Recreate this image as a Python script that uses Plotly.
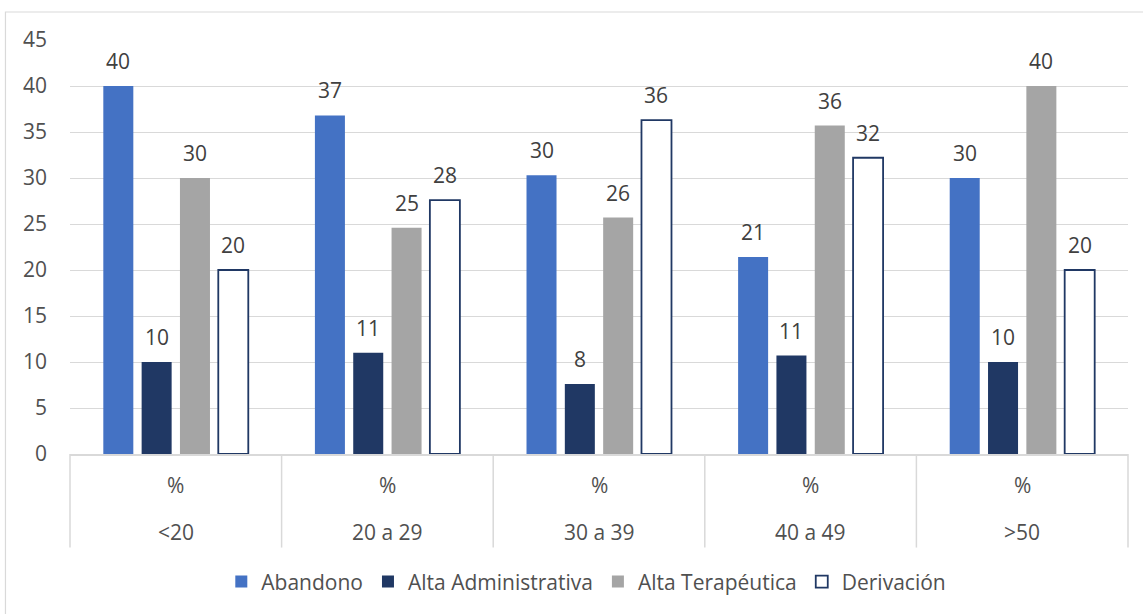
import plotly.graph_objects as go

# Age groups and the single measure shown under each group
age_groups = ["<20", "20 a 29", "30 a 39", "40 a 49", ">50"]
measure_label = "%"

# Percentage of each discharge type per age group
abandono = [40.0, 36.8, 30.3, 21.4, 30.0]
alta_administrativa = [10.0, 11.0, 7.6, 10.7, 10.0]
alta_terapeutica = [30.0, 24.6, 25.7, 35.7, 40.0]
derivacion = [20.0, 27.6, 36.3, 32.2, 20.0]

y_ticks = [0, 5, 10, 15, 20, 25, 30, 35, 40, 45]

series = [
    ("Abandono", abandono, "#4472C4", "#4472C4", 0),
    ("Alta Administrativa", alta_administrativa, "#203864", "#203864", 0),
    ("Alta Terapéutica", alta_terapeutica, "#A5A5A5", "#A5A5A5", 0),
    ("Derivación", derivacion, "#FFFFFF", "#203864", 1.8),
]

FONT = "Open Sans"
FSIZE = 21
LABEL_COLOR = "#404040"
AXIS_COLOR = "#505050"
GRID = "#D9D9D9"
BARGAP = 0.2755
GROUPGAP = 0.217

fig = go.Figure()
for name, vals, fill, edge, lw in series:
    fig.add_trace(go.Bar(
        name=name, x=age_groups, y=vals,
        marker=dict(color=fill, line=dict(color=edge, width=lw)),
    ))

# value labels above each bar, placed on the category scale
slot = (1 - BARGAP) / len(series)
annotations = []
for k, (name, vals, *_rest) in enumerate(series):
    off = (k - (len(series) - 1) / 2) * slot
    for i, v in enumerate(vals):
        annotations.append(dict(
            x=i + off, y=v, xref="x", yref="y", text=f"{v:.0f}",
            showarrow=False, yanchor="middle", yshift=25,
            font=dict(family=FONT, size=FSIZE, color=LABEL_COLOR),
        ))

# two-level category labels under the axis
for g in age_groups:
    annotations.append(dict(
        x=g, y=-0.076, xref="x", yref="paper", text=measure_label,
        showarrow=False, yanchor="middle",
        font=dict(family=FONT, size=FSIZE, color=AXIS_COLOR),
    ))
    annotations.append(dict(
        x=g, y=-0.189, xref="x", yref="paper", text=g,
        showarrow=False, yanchor="middle",
        font=dict(family=FONT, size=FSIZE, color=AXIS_COLOR),
    ))

shapes = []
n = len(age_groups)
for i in range(n + 1):
    shapes.append(dict(
        type="line", xref="paper", yref="paper",
        x0=i / n, x1=i / n, y0=0, y1=-0.226,
        line=dict(color=GRID, width=1.5),
    ))
# chart frame
shapes.append(dict(
    type="rect", xref="paper", yref="paper",
    x0=-0.061, x1=1.016, y0=-0.402, y1=1.0676,
    line=dict(color=GRID, width=1.2), fillcolor="rgba(0,0,0,0)", layer="below",
))

fig.update_layout(
    width=1143, height=614,
    margin=dict(l=70, r=15, t=40, b=160),
    paper_bgcolor="white", plot_bgcolor="white",
    barmode="group", bargap=BARGAP, bargroupgap=GROUPGAP,
    font=dict(family=FONT, size=FSIZE, color=AXIS_COLOR),
    xaxis=dict(
        showticklabels=False, ticks="", showgrid=False,
        showline=True, linecolor=GRID, linewidth=1.5,
        range=[-0.5, n - 0.5],
    ),
    yaxis=dict(
        range=[0, 45], tickvals=y_ticks, ticks="",
        showgrid=True, gridcolor=GRID, gridwidth=1.2,
        zeroline=False, showline=False, ticklabelstandoff=22,
        tickfont=dict(family=FONT, size=FSIZE, color=AXIS_COLOR),
    ),
    legend=dict(
        orientation="h", x=0.488, xanchor="center", y=-0.309, yanchor="middle",
        font=dict(family=FONT, size=FSIZE, color=AXIS_COLOR),
        itemclick=False,
    ),
    annotations=annotations,
    shapes=shapes,
)

fig.write_html("out.html")
